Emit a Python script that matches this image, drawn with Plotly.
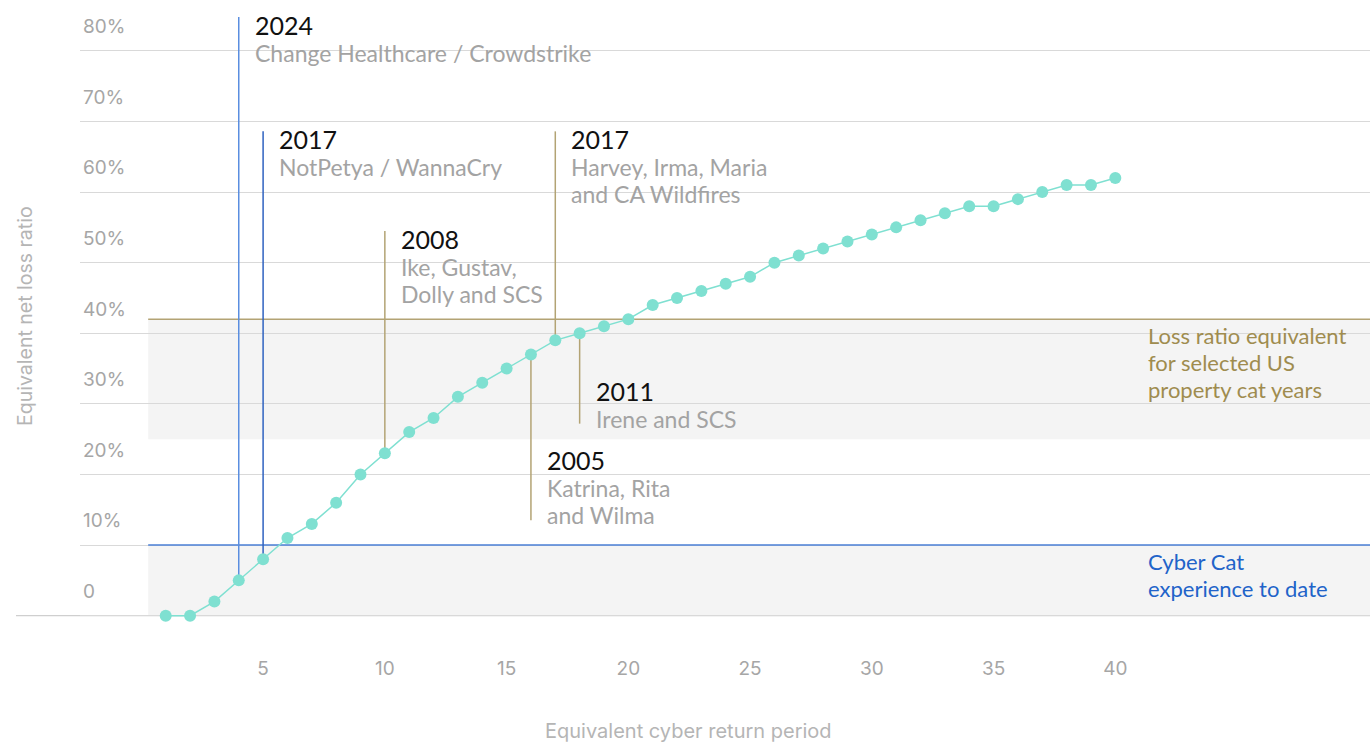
import plotly.graph_objects as go

# Curve: equivalent net loss ratio (%) by cyber return period (years)
return_period = list(range(1, 41))
loss_ratio = [0, 0, 2, 5, 8, 11, 13, 16, 20, 23,
              26, 28, 31, 33, 35, 37, 39, 40, 41, 42,
              44, 45, 46, 47, 48, 50, 51, 52, 53, 54,
              55, 56, 57, 58, 58, 59, 60, 61, 61, 62]

y_ticks = [0, 10, 20, 30, 40, 50, 60, 70, 80]
y_tick_text = ["0", "10%", "20%", "30%", "40%", "50%", "60%", "70%", "80%"]
x_ticks = [5, 10, 15, 20, 25, 30, 35, 40]

# Reference levels (%)
cyber_cat_level = 10
property_band_low = 25
property_band_high = 42

# Historical events: return period where they sit, label texts, line end (%)
event_years = ["2024", "2017", "2008", "2017", "2011", "2005"]
event_desc = [
    ["Change Healthcare / Crowdstrike"],
    ["NotPetya / WannaCry"],
    ["Ike, Gustav,", "Dolly and SCS"],
    ["Harvey, Irma, Maria", "and CA Wildfires"],
    ["Irene and SCS"],
    ["Katrina, Rita", "and Wilma"],
]
event_x = [4, 5, 10, 17, 18, 16]
event_end = [84.8, 68.6, 54.5, 68.6, 27.2, 13.5]
event_kind = ["cyber", "cyber", "property", "property", "property", "property"]

band_labels = [
    (["Loss ratio equivalent", "for selected US", "property cat years"], property_band_high, "#9f8c4f"),
    (["Cyber Cat", "experience to date"], cyber_cat_level, "#2163c9"),
]

TEAL = "#7fe0d1"
BLUE_LIGHT = "#5a8ee0"
BLUE_DARK = "#2f62c0"
GOLD_LINE = "#b3a374"
GREY_TEXT = "#a3a3a3"
GRID = "#d9d9d9"
BAND = "#f4f4f4"

TEXT_FONT = "Lato"
AXIS_FONT = "Inter"

LINE_H = 27         # spacing between text lines, px

fig = go.Figure()

fig.add_trace(go.Scatter(
    x=return_period, y=loss_ratio, mode="lines+markers",
    line=dict(color=TEAL, width=1.5),
    marker=dict(color=TEAL, size=12),
    hoverinfo="skip", showlegend=False,
))

x_min, x_max = -2.52, 50.46
shapes = []
# shaded bands
for y0, y1 in [(0, cyber_cat_level), (property_band_low, property_band_high)]:
    shapes.append(dict(type="rect", xref="x", yref="y", x0=0.28, x1=x_max,
                       y0=y0, y1=y1, fillcolor=BAND, line=dict(width=0),
                       layer="below"))
# baseline extended to the left
shapes.append(dict(type="line", xref="paper", yref="y", x0=-0.0496, x1=1,
                   y0=0, y1=0, line=dict(color="#cfcfcf", width=1.2),
                   layer="below"))
# reference lines
shapes.append(dict(type="line", xref="x", yref="y", x0=0.28, x1=x_max,
                   y0=cyber_cat_level, y1=cyber_cat_level,
                   line=dict(color="#4a7fd6", width=1.5), layer="between"))
shapes.append(dict(type="line", xref="x", yref="y", x0=0.28, x1=x_max,
                   y0=property_band_high, y1=property_band_high,
                   line=dict(color=GOLD_LINE, width=1.5), layer="between"))

annotations = []


def text_line(x, y, text, size, color, xref="x", xshift=0, yshift=0):
    annotations.append(dict(
        x=x, y=y, xref=xref, yref="y", xshift=xshift, yshift=yshift,
        text=text, showarrow=False, xanchor="left", yanchor="middle",
        font=dict(family=TEXT_FONT, size=size, color=color)))


for i, (yr, desc, ex, end, kind) in enumerate(
        zip(event_years, event_desc, event_x, event_end, event_kind)):
    point_y = loss_ratio[return_period.index(ex)]
    if kind == "cyber":
        color = BLUE_LIGHT if i == 0 else BLUE_DARK
    else:
        color = GOLD_LINE
    shapes.append(dict(type="line", xref="x", yref="y", x0=ex, x1=ex,
                       y0=point_y, y1=end, line=dict(color=color, width=1.5),
                       layer="between"))
    n = len(desc)
    if end > point_y:
        # label hangs from the top of the line
        year_px = 8
    else:
        # label sits above the bottom end of the line
        year_px = -(6 + n * LINE_H)
    text_line(ex, end, yr, 25, "#111111", xshift=14, yshift=-year_px)
    for k, line in enumerate(desc):
        text_line(ex, end, line, 23, GREY_TEXT, xshift=14,
                  yshift=-(year_px + 28 + k * LINE_H))

# band labels
for lines, level, color in band_labels:
    for k, line in enumerate(lines):
        text_line(0.8264, level, line, 22, color, xref="paper",
                  yshift=-(16 + k * LINE_H))

# axis titles
annotations.append(dict(
    x=0.4717, y=-0.1408, xref="paper", yref="paper",
    text="Equivalent cyber return period", showarrow=False,
    xanchor="center", yanchor="middle",
    font=dict(family=AXIS_FONT, size=20, color="#b5b5b5")))
annotations.append(dict(
    x=-0.0426, y=0.516, xref="paper", yref="paper", textangle=-90,
    text="Equivalent net loss ratio", showarrow=False,
    xanchor="center", yanchor="middle",
    font=dict(family=AXIS_FONT, size=19.5, color="#b5b5b5")))

fig.update_layout(
    width=1370, height=742,
    margin=dict(l=80, r=0, t=10, b=100),
    paper_bgcolor="white", plot_bgcolor="white",
    shapes=shapes, annotations=annotations,
    xaxis=dict(range=[x_min, x_max], showgrid=False, zeroline=False,
               showline=False, ticks="", tickvals=x_ticks,
               ticklabelstandoff=13,
               tickfont=dict(family=AXIS_FONT, size=19, color="#a6a6a6")),
    yaxis=dict(range=[-3.73, 85.79], showgrid=True, gridcolor=GRID,
               gridwidth=1.2, zeroline=False, showline=False, ticks="",
               tickvals=y_ticks, ticktext=y_tick_text,
               ticklabelposition="inside top", ticklabelshift=-11,
               tickfont=dict(family=AXIS_FONT, size=19, color="#a6a6a6")),
)

fig.write_html("out.html")
